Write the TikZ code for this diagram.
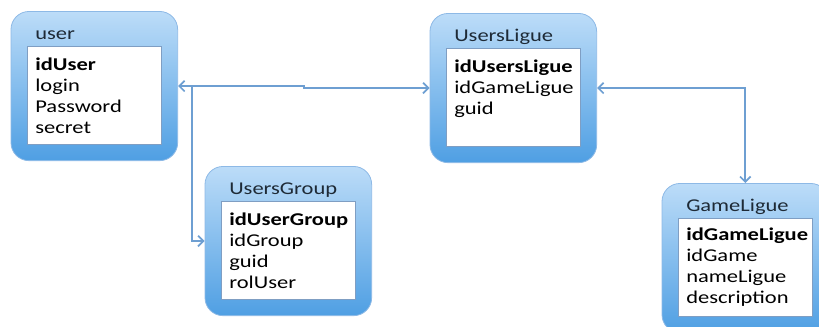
\documentclass[tikz,border=0pt]{standalone}
\usepackage{fontspec}
\setmainfont{Carlito}[FakeStretch=1.25]
\usetikzlibrary{fit, positioning}
\usetikzlibrary{backgrounds, calc}
\usetikzlibrary{arrows.meta}
\definecolor{boxtop}{HTML}{BCDCF8}
\definecolor{boxbottom}{HTML}{4F9FE3}
\definecolor{boxline}{HTML}{8DB9E6}
\definecolor{fieldline}{HTML}{7F9EC3}
\definecolor{linkblue}{HTML}{6E9FD2}
\definecolor{titletext}{HTML}{1E2A36}
\newcommand{\fieldfont}{\fontsize{13.5pt}{15.75pt}\selectfont}
\tikzset{table box/.style={draw=boxline, line width=0.6pt, rounded corners=13.5pt, top color=boxtop, bottom color=boxbottom, inner sep=12pt}}
\tikzset{table title/.style={font=\fieldfont, text=titletext, inner xsep=6pt, inner ysep=0pt, text height=9pt, text depth=4.5pt}}
\tikzset{table fields/.style={draw=fieldline, fill=white, line width=0.5pt, font=\fieldfont, align=left, text width=88.5pt, inner xsep=6pt, minimum height=73.5pt, anchor=north west}}
\tikzset{link/.style={draw=linkblue, line width=1.3pt}}

\begin{document}
\begin{tikzpicture}[x=0.75pt, y=-0.75pt, >={Straight Barb[length=4pt, width=8pt]}]
\useasboundingbox (0,0) rectangle (819,327);

% field lists
\node[table fields] (userfields) at (27,46) {\textbf{idUser}\\login\\Password\\secret};
\node[table title, above right=0pt and 0pt of userfields.north west] (usertitle) {user};
\node[table fields] (usersligfields) at (446,48) {\textbf{idUsersLigue}\\idGameLigue\\guid\\\mbox{}};
\node[table title, above right=0pt and 0pt of usersligfields.north west] (usersligtitle) {UsersLigue};
\node[table fields] (usersgrpfields) at (221,201) {\textbf{idUserGroup}\\idGroup\\guid\\rolUser};
\node[table title, above right=0pt and 0pt of usersgrpfields.north west] (usersgrptitle) {UsersGroup};
\node[table fields] (gameligfields) at (678,218) {\textbf{idGameLigue}\\idGame\\nameLigue\\description};
\node[table title, above right=0pt and 0pt of gameligfields.north west] (gameligtitle) {GameLigue};

% rounded tables behind the lists
\begin{scope}[on background layer]
\node[table box, fit={(usertitle) (userfields)}] (user) {};
\node[table box, fit={(usersligtitle) (usersligfields)}] (usersligue) {};
\node[table box, fit={(usersgrptitle) (usersgrpfields)}] (usersgroup) {};
\node[table box, fit={(gameligtitle) (gameligfields)}] (gameligue) {};
\end{scope}

% relations
\coordinate (jog) at ($(user.east)!0.5!(usersligue.west)$);
\draw[link, <->] (user.east) -| (jog) |- (usersligue.west);
\coordinate[right=10.5pt of user.east] (branch);
\draw[link, ->] (branch) |- (usersgroup.west);
\draw[link, <->] (usersligue.east) -| (gameligue.north);
\end{tikzpicture}
\end{document}
